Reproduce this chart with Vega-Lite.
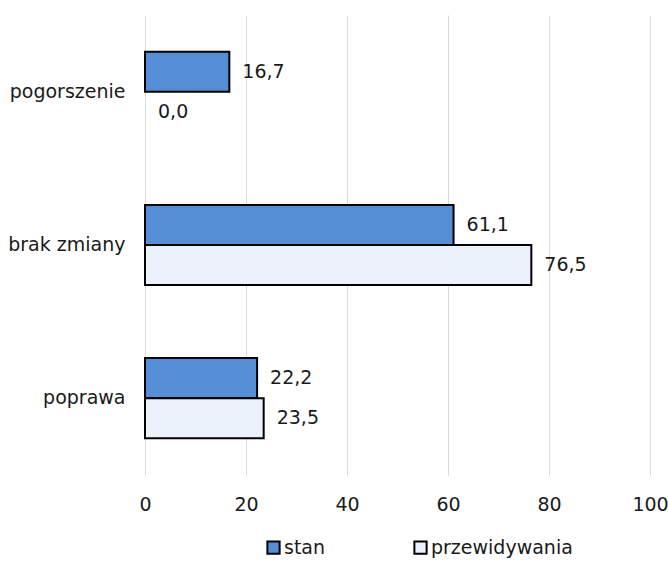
{
  "$schema": "https://vega.github.io/schema/vega-lite/v6.json",
  "width": 505,
  "height": 460,
  "autosize": {"type": "none"},
  "padding": {"left": 145, "top": 15, "right": 18, "bottom": 87},
  "config": {
    "view": {"stroke": null},
    "font": "DejaVu Sans",
    "locale": {"number": {"decimal": ",", "thousands": " ", "grouping": [3], "currency": ["", " zł"]}}
  },
  "data": {"values": [
    {"kat": "pogorszenie", "seria": "stan", "v": 16.7},
    {"kat": "pogorszenie", "seria": "przewidywania", "v": 0.0},
    {"kat": "brak zmiany", "seria": "stan", "v": 61.1},
    {"kat": "brak zmiany", "seria": "przewidywania", "v": 76.5},
    {"kat": "poprawa", "seria": "stan", "v": 22.2},
    {"kat": "poprawa", "seria": "przewidywania", "v": 23.5}
  ]},
  "encoding": {
    "y": {"field": "kat", "type": "nominal", "sort": ["pogorszenie", "brak zmiany", "poprawa"],
      "scale": {"paddingInner": 0.477, "paddingOuter": 0.24},
      "axis": {"title": null, "domain": false, "ticks": false, "labelFontSize": 19, "labelColor": "#1a1a1a", "labelPadding": 20}},
    "yOffset": {"field": "seria", "type": "nominal", "sort": ["stan", "przewidywania"]},
    "x": {"field": "v", "type": "quantitative", "scale": {"domain": [0, 100]},
      "axis": {"title": null, "values": [0, 20, 40, 60, 80, 100], "domain": false, "ticks": false, "labelFlush": false, "labelFontSize": 19, "labelColor": "#1a1a1a", "labelPadding": 20, "gridColor": "#d9d9d9", "gridWidth": 1}}
  },
  "layer": [
    {
      "mark": {"type": "bar", "stroke": "#000000"},
      "encoding": {
        "strokeWidth": {"condition": {"test": "datum.v === 0", "value": 0}, "value": 2},
        "fill": {"field": "seria", "type": "nominal", "sort": ["stan", "przewidywania"],
          "scale": {"domain": ["stan", "przewidywania"], "range": ["#558ED5", "#ecf2fb"]},
          "legend": {"title": null, "orient": "none", "legendX": 119, "legendY": 523, "direction": "horizontal", "columns": 2, "columnPadding": 84,
            "symbolType": "square", "symbolSize": 150, "symbolStrokeColor": "#000000", "symbolStrokeWidth": 2,
            "labelFontSize": 19, "labelColor": "#1a1a1a", "labelOffset": 1}}
      }
    },
    {
      "mark": {"type": "text", "align": "left", "baseline": "middle", "dx": 13, "fontSize": 19, "color": "#1a1a1a"},
      "encoding": {"text": {"field": "v", "type": "quantitative", "format": ".1f"}}
    }
  ]
}
